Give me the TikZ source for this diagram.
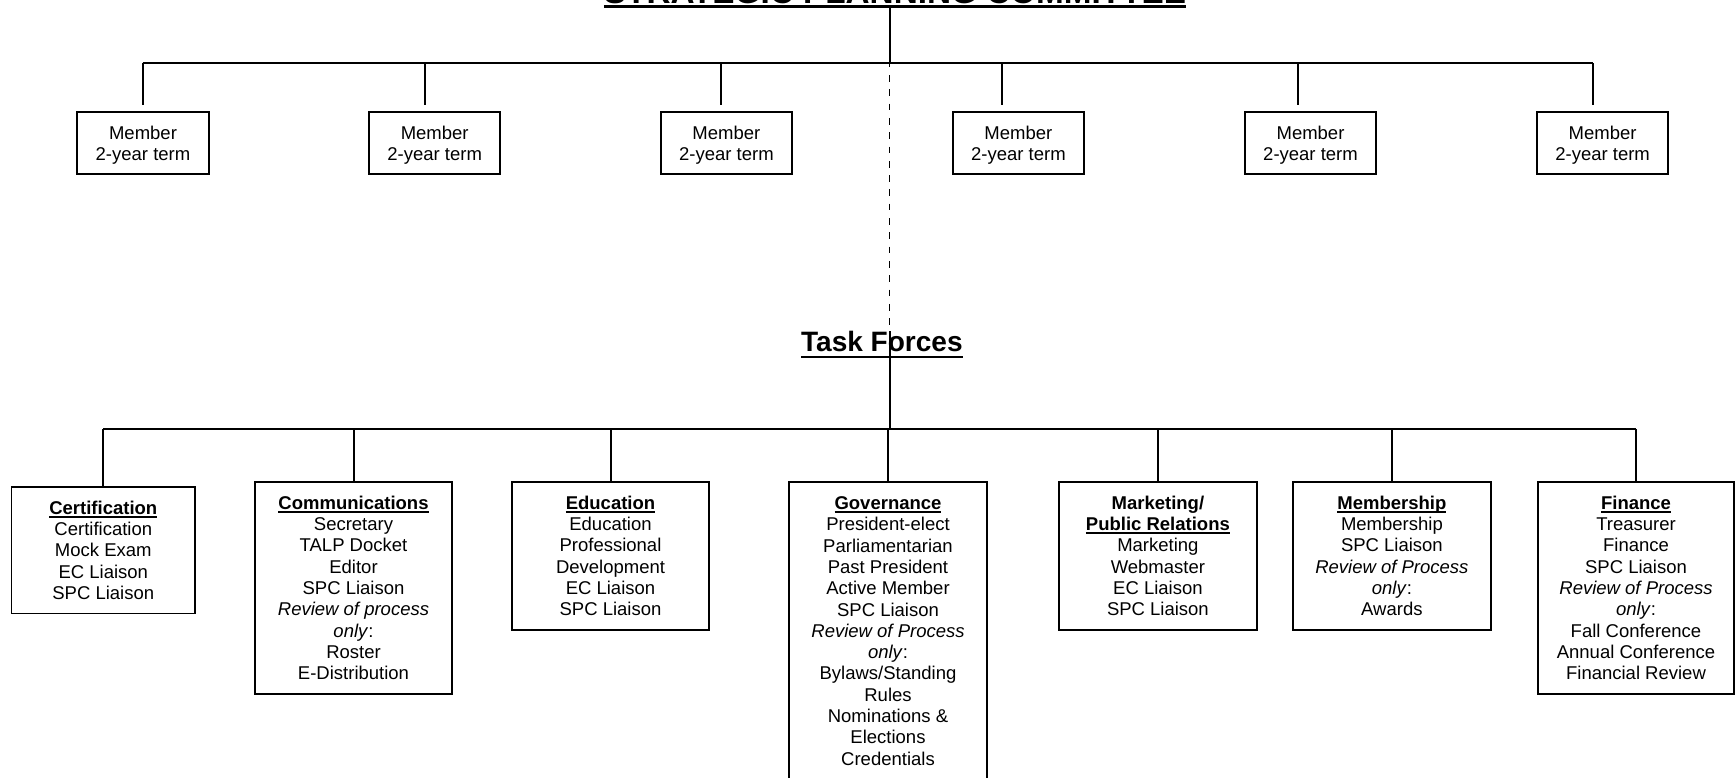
\documentclass[tikz,border=0pt]{standalone}
\usepackage{fontspec}
\setmainfont{Liberation Sans}
\newsavebox\ulbox
\newcommand\myul[3]{\leavevmode\sbox\ulbox{#1}\rlap{\usebox\ulbox}\rule[-#2]{\wd\ulbox}{#3}}
\newcommand\tstr{\rule{0pt}{27.6pt}}
\newcommand\bstr{\rule[-14pt]{0pt}{14pt}}
\newcommand\mtstr{\rule{0pt}{28pt}}
\newcommand\mbstr{\rule[-13pt]{0pt}{13pt}}
\newcommand\hd[1]{\myul{\bfseries #1}{3.8pt}{2pt}}
\begin{document}
\begin{tikzpicture}[x=1pt,y=-1pt,
  conn/.style={line width=2pt},
  dashconn/.style={line width=1.7pt, dash pattern=on 6.7pt off 7.6pt, dash phase=2.3pt},
  mbox/.style={draw, line width=1.9pt, minimum width=131.4pt, inner sep=0pt, anchor=north, align=center, font=\fontsize{18.5}{21.3}\selectfont},
  tbox/.style={draw, line width=1.9pt, minimum width=197.6pt, inner sep=0pt, anchor=north, align=center, font=\fontsize{18.5}{21.3}\selectfont},
  ttl/.style={inner sep=0pt, anchor=base, font=\bfseries}]
\clip (0,0) rectangle (1735,777);
\fill[white] (0,0) rectangle (1735,777);

% titles
\node[ttl, font=\fontsize{33.3}{40}\selectfont\bfseries] (title) at (895,3.5) {\myul{STRATEGIC PLANNING COMMITTEE}{4.5pt}{2.7pt}};
\node[ttl, font=\fontsize{28.05}{34}\selectfont\bfseries] (tf) at (881.9,351.7) {\myul{Task Forces}{6pt}{2pt}};

% member boxes
\node[mbox] (m1) at (143,110.7) {\mtstr Member\\2-year term\mbstr};
\node[mbox] (m2) at (434.7,110.7) {\mtstr Member\\2-year term\mbstr};
\node[mbox] (m3) at (726.4,110.7) {\mtstr Member\\2-year term\mbstr};
\node[mbox] (m4) at (1018.4,110.7) {\mtstr Member\\2-year term\mbstr};
\node[mbox] (m5) at (1310.5,110.7) {\mtstr Member\\2-year term\mbstr};
\node[mbox] (m6) at (1602.6,110.7) {\mtstr Member\\2-year term\mbstr};

% top bus
\coordinate (tb) at (889.6,63);
\coordinate (d1) at (142.7,63);
\coordinate (d2) at (424.8,63);
\coordinate (d3) at (720.8,63);
\coordinate (d4) at (1001.8,63);
\coordinate (d5) at (1297.9,63);
\coordinate (d6) at (1593.4,63);
\draw[conn] (title.south -| tb) -- (tb);
\draw[conn] (d1) -- (d6);
\foreach \i in {1,...,6} \draw[conn, shorten >=5.7pt] (d\i) -- (d\i |- m\i.north);

% dashed link to task forces
\draw[dashconn] (tb) -- (tb |- tf.north);

% task force boxes
\node[tbox, minimum width=183.6pt] (t1) at (103.3,485.7) {\tstr\hd{Certification}\\Certification\\Mock Exam\\EC Liaison\\SPC Liaison\bstr};
\node[tbox] (t2) at (353.5,480.7) {\tstr\hd{Communications}\\Secretary\\TALP Docket\\Editor\\SPC Liaison\\\textit{Review of process}\\\textit{only}:\\Roster\\E-Distribution\bstr};
\node[tbox] (t3) at (610.5,480.7) {\tstr\hd{Education}\\Education\\Professional\\Development\\EC Liaison\\SPC Liaison\bstr};
\node[tbox] (t4) at (888,481) {\tstr\hd{Governance}\\President-elect\\Parliamentarian\\Past President\\Active Member\\SPC Liaison\\\textit{Review of Process}\\\textit{only}:\\Bylaws/Standing\\Rules\\Nominations \&\\Elections\\Credentials\bstr};
\node[tbox] (t5) at (1157.9,480.7) {\tstr\textbf{Marketing/}\\\hd{Public Relations}\\Marketing\\Webmaster\\EC Liaison\\SPC Liaison\bstr};
\node[tbox] (t6) at (1391.9,480.7) {\tstr\hd{Membership}\\Membership\\SPC Liaison\\\textit{Review of Process}\\\textit{only}:\\Awards\bstr};
\node[tbox, minimum width=196pt] (t7) at (1636,480.7) {\tstr\hd{Finance}\\Treasurer\\Finance\\SPC Liaison\\\textit{Review of Process}\\\textit{only}:\\Fall Conference\\Annual Conference\\Financial Review\bstr};

% bottom bus
\coordinate (b1) at (103.3,429);
\coordinate (b2) at (353.5,429);
\coordinate (b3) at (610.5,429);
\coordinate (b4) at (888,429);
\coordinate (b5) at (1157.9,429);
\coordinate (b6) at (1391.9,429);
\coordinate (b7) at (1636,429);
\draw[conn] (tb |- tf.north) -- (tb |- b1);
\draw[conn] (b1) -- (b7);
\foreach \i in {1,...,7} \draw[conn] (b\i) -- (t\i.north);
\end{tikzpicture}
\end{document}
